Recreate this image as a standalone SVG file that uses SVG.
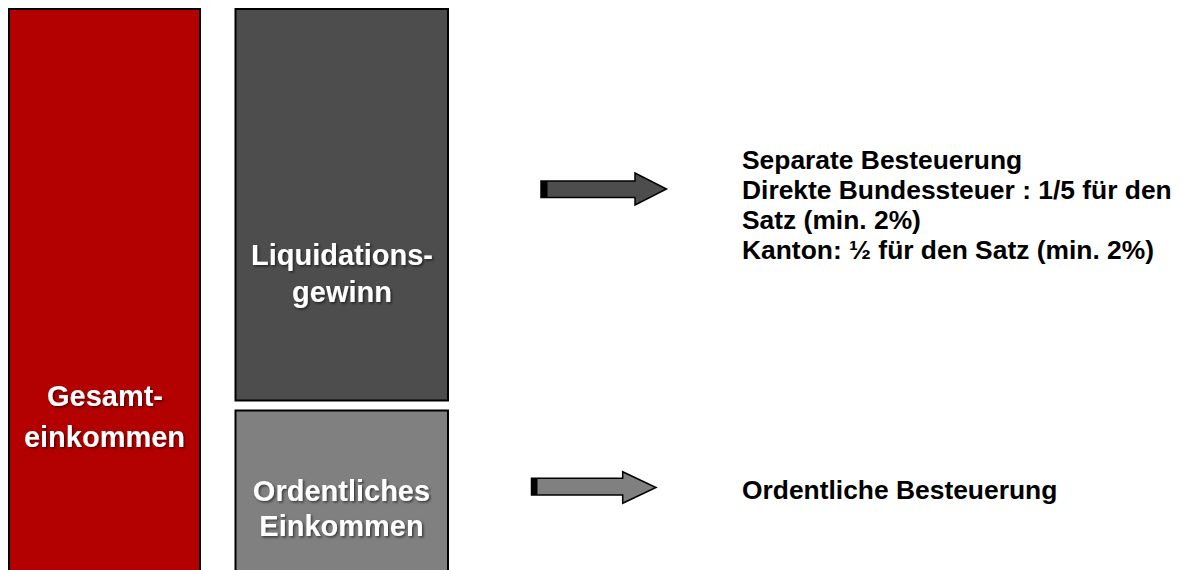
<svg xmlns="http://www.w3.org/2000/svg" width="1187" height="570" viewBox="0 0 1187 570">
<defs>
<filter id="sh" x="-10%" y="-10%" width="130%" height="140%">
<feDropShadow dx="1.5" dy="1.5" stdDeviation="1" flood-color="#000" flood-opacity="0.55"/>
</filter>
</defs>
<style>
.box{stroke:#000;stroke-width:2}
.lbl{font-family:"Liberation Sans",Arial,sans-serif;font-weight:bold;font-size:29px;fill:#fff;text-anchor:middle}
.txt{font-family:"Liberation Sans",Arial,sans-serif;font-weight:bold;font-size:26.4px;fill:#000}
.arr{stroke:#000;stroke-width:1.5;stroke-linejoin:miter}
</style>
<rect width="1187" height="570" fill="#fff"/>
<g id="gesamteinkommen">
<rect class="box" x="9" y="9" width="191" height="580" fill="#b30000"/>
<text class="lbl" filter="url(#sh)"><tspan x="105" y="406">Gesamt-</tspan><tspan x="104.5" y="446.5">einkommen</tspan></text>
</g>
<g id="liquidationsgewinn">
<rect class="box" x="235.5" y="9" width="212.5" height="391.5" fill="#4d4d4d" stroke="#1a1a1a"/>
<text class="lbl" filter="url(#sh)"><tspan x="342" y="265">Liquidations-</tspan><tspan x="342" y="301.5">gewinn</tspan></text>
</g>
<g id="ordentliches-einkommen">
<rect class="box" x="235.5" y="410.5" width="212.5" height="180" fill="#808080" stroke="#1a1a1a"/>
<text class="lbl" filter="url(#sh)"><tspan x="341.5" y="500.5">Ordentliches</tspan><tspan x="341.5" y="536">Einkommen</tspan></text>
</g>
<g id="connectors">
<polygon class="arr" fill="#4d4d4d" points="541,181 635,181 635,173 666.5,189 635,205 635,197.5 541,197.5"/>
<rect x="541" y="181" width="6.5" height="16.5" fill="#000"/>
<polygon class="arr" fill="#808080" points="531.5,478.3 622.7,478.3 622.7,471.7 656,487.5 622.7,503.3 622.7,495 531.5,495"/>
<rect x="531.5" y="478.3" width="6" height="16.7" fill="#000"/>
</g>
<g id="separate-besteuerung">
<text class="txt"><tspan x="742" y="169.3">Separate Besteuerung</tspan><tspan x="742" y="199.3">Direkte Bundessteuer : 1/5 für den</tspan><tspan x="742" y="229.3">Satz (min. 2%)</tspan><tspan x="742" y="259.3">Kanton: ½ für den Satz (min. 2%)</tspan></text>
</g>
<g id="ordentliche-besteuerung">
<text class="txt" x="742" y="498.7">Ordentliche Besteuerung</text>
</g>
</svg>
